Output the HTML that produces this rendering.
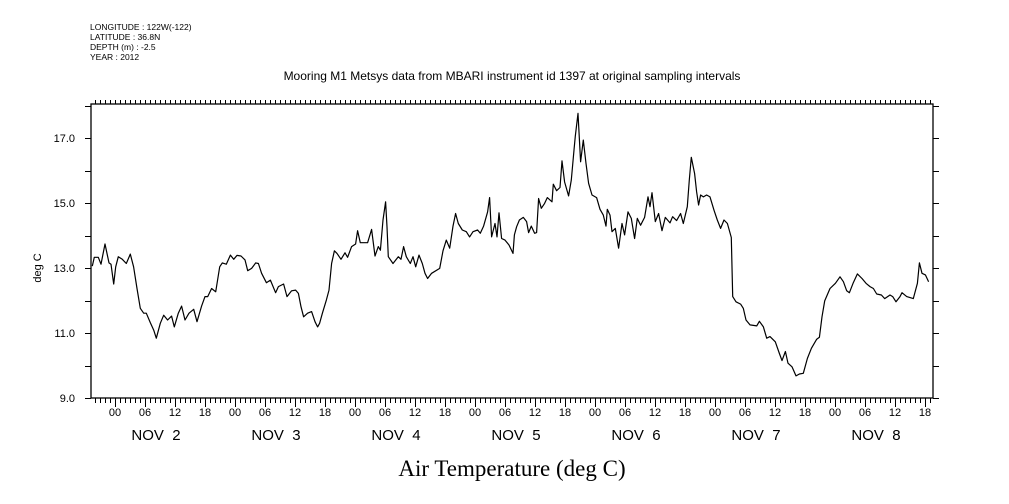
<!DOCTYPE html>
<html><head><meta charset="utf-8"><style>
html,body{margin:0;padding:0;background:#fff;}
svg{display:block;font-family:"Liberation Sans",sans-serif;}
svg text{white-space:pre;}
</style></head><body>
<svg id="chart" width="1009" height="504" viewBox="0 0 1009 504" xmlns="http://www.w3.org/2000/svg" xml:space="preserve">
<g font-size="8.5" fill="#000">
<text x="90" y="30">LONGITUDE : 122W(-122)</text>
<text x="90" y="40">LATITUDE : 36.8N</text>
<text x="90" y="50">DEPTH (m) : -2.5</text>
<text x="90" y="60">YEAR : 2012</text>
</g>
<text x="512" y="80" text-anchor="middle" font-size="12">Mooring M1 Metsys data from MBARI instrument id 1397 at original sampling intervals</text>
<text x="512" y="476" text-anchor="middle" font-size="23" font-family="Liberation Serif, serif">Air Temperature (deg C)</text>
<text transform="translate(41,268) rotate(-90)" text-anchor="middle" font-size="11">deg C</text>
<rect x="91" y="104" width="842" height="294" fill="none" stroke="#000" stroke-width="1.3"/>
<g id="ticks"></g>
<g id="labels"></g>
<path id="series" fill="none" stroke="#000" stroke-width="1.2" stroke-linejoin="round"/>
</svg>
<script>
// hours since Nov 2 00:00 (2012)
const hours = [-4.53,-4.13,-3.33,-2.8,-2.0,-1.2,-0.8,-0.27,0.13,0.67,1.47,2.27,3.07,3.73,4.4,5.07,5.73,6.27,7.07,7.73,8.27,9.07,9.73,10.53,11.33,11.87,12.67,13.33,14.0,14.8,15.73,16.4,17.33,18.0,18.53,19.33,20.13,20.93,21.47,22.27,23.07,23.73,24.4,25.2,26.0,26.53,27.33,28.13,28.67,29.33,30.27,31.07,32.13,32.67,33.73,34.4,35.33,36.13,36.67,37.2,37.73,38.53,39.33,40.0,40.53,40.93,41.47,42.27,42.8,43.33,43.87,44.4,45.2,46.0,46.53,47.33,48.13,48.53,49.07,50.53,51.33,52.0,52.67,53.07,53.6,54.13,54.4,54.67,55.6,56.67,57.2,57.73,58.27,59.07,59.6,60.13,60.8,61.47,62.0,62.53,63.33,64.93,65.6,66.27,66.93,67.6,68.13,68.67,69.47,70.27,70.93,71.6,72.53,73.07,73.73,74.53,74.93,75.33,76.0,76.4,76.8,77.33,78.0,78.8,79.6,79.87,80.33,80.87,81.67,82.33,82.73,83.27,83.93,84.33,84.73,85.27,85.93,86.47,87.4,87.67,88.33,89.0,89.4,89.93,90.73,91.27,91.8,92.07,92.6,93.13,93.67,94.2,94.73,95.4,96.33,97.0,97.67,98.2,98.47,99.0,99.4,100.07,100.73,101.4,101.93,102.6,103.27,103.93,104.47,105.13,105.93,106.6,107.0,107.4,108.07,108.73,109.4,110.07,111.0,111.53,112.33,113.13,113.67,114.47,114.87,115.27,115.93,116.33,116.73,117.13,117.67,118.33,119.0,119.8,120.47,121.13,121.8,122.47,123.27,123.53,124.2,125.13,125.67,126.2,127.0,128.33,128.87,129.67,130.33,131.0,132.07,132.87,133.4,134.07,134.6,135.4,136.2,136.87,137.67,138.47,139.27,140.33,140.87,141.4,141.93,143.0,144.07,145.0,145.67,146.33,146.87,147.67,148.47,149.4,150.2,151.0,151.67,152.33,153.27,153.93,155.0,155.53,156.2,157.0,157.4,158.33,159.67,160.47,160.87,161.4,162.07,162.73];
const temps = [13.06,13.33,13.33,13.12,13.74,13.16,13.12,12.51,13.04,13.35,13.27,13.14,13.43,13.04,12.37,11.76,11.61,11.61,11.32,11.09,10.84,11.30,11.55,11.40,11.52,11.19,11.61,11.83,11.40,11.61,11.73,11.35,11.83,12.12,12.12,12.37,12.27,13.04,13.16,13.12,13.40,13.27,13.39,13.37,13.25,12.92,12.99,13.16,13.14,12.84,12.55,12.63,12.24,12.43,12.51,12.12,12.30,12.32,12.22,11.81,11.50,11.61,11.66,11.35,11.19,11.30,11.61,12.02,12.32,13.14,13.53,13.45,13.27,13.47,13.33,13.66,13.74,14.15,13.78,13.78,14.19,13.37,13.66,13.55,14.48,15.04,14.27,13.35,13.14,13.35,13.27,13.66,13.35,13.14,13.35,13.04,13.40,13.14,12.84,12.68,12.84,12.99,13.53,13.86,13.61,14.29,14.68,14.37,14.17,14.12,13.96,14.12,14.17,14.07,14.29,14.73,15.17,13.96,14.37,13.96,14.70,13.91,13.86,13.71,13.45,14.02,14.27,14.48,14.56,14.43,14.09,14.29,14.07,14.09,15.14,14.84,14.99,15.17,15.04,15.58,15.38,15.48,16.30,15.65,15.22,15.71,16.63,17.06,17.76,16.27,16.94,16.22,15.61,15.25,15.17,14.81,14.63,14.29,14.81,14.63,14.12,14.22,13.61,14.37,14.02,14.73,14.53,13.91,14.53,14.32,14.56,15.19,14.89,15.32,14.43,14.68,14.15,14.56,14.39,14.58,14.46,14.68,14.37,14.89,15.71,16.41,15.91,15.35,14.94,15.25,15.19,15.25,15.19,14.78,14.48,14.22,14.48,14.37,13.94,12.12,11.96,11.89,11.76,11.40,11.25,11.22,11.36,11.19,10.84,10.89,10.73,10.37,10.15,10.43,10.07,9.96,9.68,9.74,9.76,10.22,10.53,10.81,10.87,11.50,11.99,12.37,12.53,12.73,12.58,12.30,12.24,12.55,12.82,12.68,12.53,12.43,12.37,12.20,12.17,12.06,12.17,12.12,11.96,12.12,12.24,12.12,12.06,12.53,13.16,12.84,12.79,12.58];
const yTickLabels = ["9.0","11.0","13.0","15.0","17.0"];
const hourLabels = ["00","06","12","18"];
const dayLabels = ["NOV  2","NOV  3","NOV  4","NOV  5","NOV  6","NOV  7","NOV  8"];

const X0=91,X1=933,Y0=398,Y1=104;
const hMin=-4.8, hMax=163.6;
const tMin=9, tMax=18.05;
function xs(h){return X0+(h-hMin)/(hMax-hMin)*(X1-X0);}
function ys(t){return Y0-(t-tMin)/(tMax-tMin)*(Y0-Y1);}
const NS="http://www.w3.org/2000/svg";
const ticks=document.getElementById('ticks');
const labels=document.getElementById('labels');
function line(x1,y1,x2,y2,name){
  const l=document.createElementNS(NS,'line');
  l.setAttribute('x1',x1);l.setAttribute('y1',y1);l.setAttribute('x2',x2);l.setAttribute('y2',y2);
  l.setAttribute('stroke','#000');l.setAttribute('stroke-width','1');
  
  
  ticks.appendChild(l);
}
function txt(x,y,s,size,anchor,name){
  const t=document.createElementNS(NS,'text');
  t.setAttribute('x',x);t.setAttribute('y',y);t.setAttribute('font-size',size);
  t.setAttribute('text-anchor',anchor);t.textContent=s;
  
  
  labels.appendChild(t);
}
for(let h=Math.ceil(hMin);h<=hMax;h++){
  const x=Math.round(xs(h))+0.5;
  const major=((h%6)+6)%6===0;
  line(x,Y1,x,Y1-4,'top-tick');
  line(x,Y0,x,Y0+(major?9:5),'bottom-tick');
}
for(let d=0;d<dayLabels.length;d++){
  for(let k=0;k<hourLabels.length;k++){
    const h=d*24+k*6;
    if(h<=hMax) txt(xs(h),416,hourLabels[k],11,'middle','x-tick-label');
  }
  txt(xs(d*24+8.2),440,dayLabels[d],15,'middle','day-label');
}
for(let v=9;v<=18;v++){
  const y=Math.round(ys(v))+0.5;
  line(X0,y,X0-6,y,'y-tick-left');
  line(X1,y,X1+6,y,'y-tick-right');
}
yTickLabels.forEach(s=>txt(75,ys(parseFloat(s))+4,s,11,'end','y-tick-label'));
let d='';
for(let i=0;i<hours.length;i++){d+=(i?'L':'M')+xs(hours[i]).toFixed(1)+' '+ys(temps[i]).toFixed(1);}
document.getElementById('series').setAttribute('d',d);
</script>
</body></html>
